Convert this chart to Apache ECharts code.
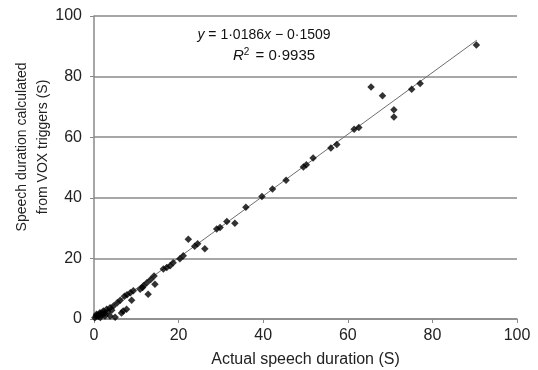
<!DOCTYPE html>
<html>
<head>
<meta charset="utf-8">
<script src="https://cdn.jsdelivr.net/npm/echarts@6/dist/echarts.min.js"></script>
<style>html,body{margin:0;padding:0;background:#fff;}#c{width:538px;height:370px;}</style>
</head>
<body>
<div id="c"></div>
<script>
// Observed points: actual speech duration (x) vs VOX-calculated duration (y)
var actualDuration = [90.4, 65.5, 68.2, 75.1, 77.1, 70.9, 70.9, 61.5, 62.6, 57.4, 56.0, 51.8, 50.2, 49.5, 45.4, 42.2, 39.7, 35.9, 33.3, 31.4, 29.8, 29.0, 26.2, 24.5, 23.8, 22.3, 21.1, 20.3, 18.7, 18.0, 17.2, 16.4, 14.2, 13.4, 14.4, 12.5, 11.7, 12.8, 10.9, 11.5, 9.3, 8.6, 7.8, 7.2, 8.9, 6.2, 5.5, 7.7, 6.9, 6.5, 4.6, 3.8, 3.0, 5.0, 2.2, 1.4, 0.6, 3.8, 2.6, 0.2, 1.0, 1.8, 1.5, 2.0, 3.2, 4.2, 0.5, 1.2, 2.5];
var voxDuration    = [90.4, 76.6, 73.7, 75.8, 77.7, 69.1, 66.7, 62.6, 63.2, 57.6, 56.4, 53.1, 50.9, 50.2, 45.8, 42.9, 40.4, 36.9, 31.6, 32.2, 30.2, 29.7, 23.2, 24.8, 24.0, 26.3, 20.9, 19.9, 18.6, 17.6, 17.0, 16.5, 14.2, 13.0, 11.5, 12.0, 11.0, 8.2, 9.8, 10.4, 9.3, 8.7, 8.0, 7.5, 6.2, 6.2, 5.4, 3.2, 2.6, 2.0, 4.3, 3.7, 3.2, 0.6, 2.6, 2.1, 1.6, 1.0, 1.0, 0.4, 0.8, 1.4, 0.5, 2.0, 2.3, 2.9, 1.0, 1.5, 1.8];
// Regression line shown on the chart
var fitSlope = 1.0186;
var fitIntercept = -0.1509;
var fitRange = [0, 90.5];
var axisTicks = [0, 20, 40, 60, 80, 100];

var points = actualDuration.map(function (x, i) { return [x, voxDuration[i]]; });
var fitLine = fitRange.map(function (x) { return [x, fitSlope * x + fitIntercept]; });

var chart = echarts.init(document.getElementById('c'), null, {renderer: 'canvas'});
var font = 'Liberation Sans, Arial, Helvetica, sans-serif';
var gray = '#8a8a8a';
chart.setOption({
  animation: false,
  backgroundColor: '#fff',
  grid: {left: 94, right: 21, top: 16, bottom: 51, containLabel: false, outerBoundsMode: 'none'},
  xAxis: {
    type: 'value', min: axisTicks[0], max: axisTicks[axisTicks.length - 1], interval: 20,
    name: 'Actual speech duration (S)', nameLocation: 'middle', nameGap: 33,
    nameTextStyle: {fontFamily: font, fontSize: 16, color: '#222'},
    axisLine: {show: true, lineStyle: {color: gray, width: 1.5}},
    axisTick: {show: true, length: 4, lineStyle: {color: gray, width: 1}},
    axisLabel: {fontFamily: font, fontSize: 16, color: '#222', margin: 9},
    splitLine: {show: false}
  },
  yAxis: {
    type: 'value', min: axisTicks[0], max: axisTicks[axisTicks.length - 1], interval: 20,
    axisLine: {show: true, lineStyle: {color: gray, width: 1.5}},
    axisTick: {show: true, length: 4, lineStyle: {color: gray, width: 1}},
    axisLabel: {fontFamily: font, fontSize: 16, color: '#222', margin: 12},
    splitLine: {show: true, lineStyle: {color: gray, width: 1.5}}
  },
  graphic: [
    {
      type: 'text', x: 33, y: 147, rotation: Math.PI / 2,
      style: {
        text: 'Speech duration calculated\nfrom VOX triggers (S)',
        fontFamily: font, fontSize: 14, fill: '#222', align: 'center', verticalAlign: 'middle', lineHeight: 21
      }
    },
    {
      type: 'text', x: 264, y: 35,
      style: {
        text: '{i|y} = 1·0186{i|x} − 0·1509',
        fontFamily: font, fontSize: 14, fill: '#111', align: 'center', verticalAlign: 'middle',
        rich: {i: {fontStyle: 'italic', fontFamily: font, fontSize: 14, fill: '#111'}}
      }
    },
    {
      type: 'text', x: 274, y: 56,
      style: {
        text: '{i|R}{s|2} = 0·9935',
        fontFamily: font, fontSize: 15, fill: '#111', align: 'center', verticalAlign: 'middle',
        rich: {
          i: {fontStyle: 'italic', fontFamily: font, fontSize: 15, fill: '#111'},
          s: {fontFamily: font, fontSize: 10, fill: '#111', verticalAlign: 'top', padding: [0, 2, 7, 0]}
        }
      }
    }
  ],
  series: [
    {
      type: 'line', data: fitLine, showSymbol: false, symbol: 'none',
      lineStyle: {color: '#6e6e6e', width: 1}, z: 2
    },
    {
      type: 'scatter', data: points, symbol: 'diamond', symbolSize: 7.5,
      itemStyle: {color: '#000'}, z: 3
    }
  ]
});
</script>
</body>
</html>
